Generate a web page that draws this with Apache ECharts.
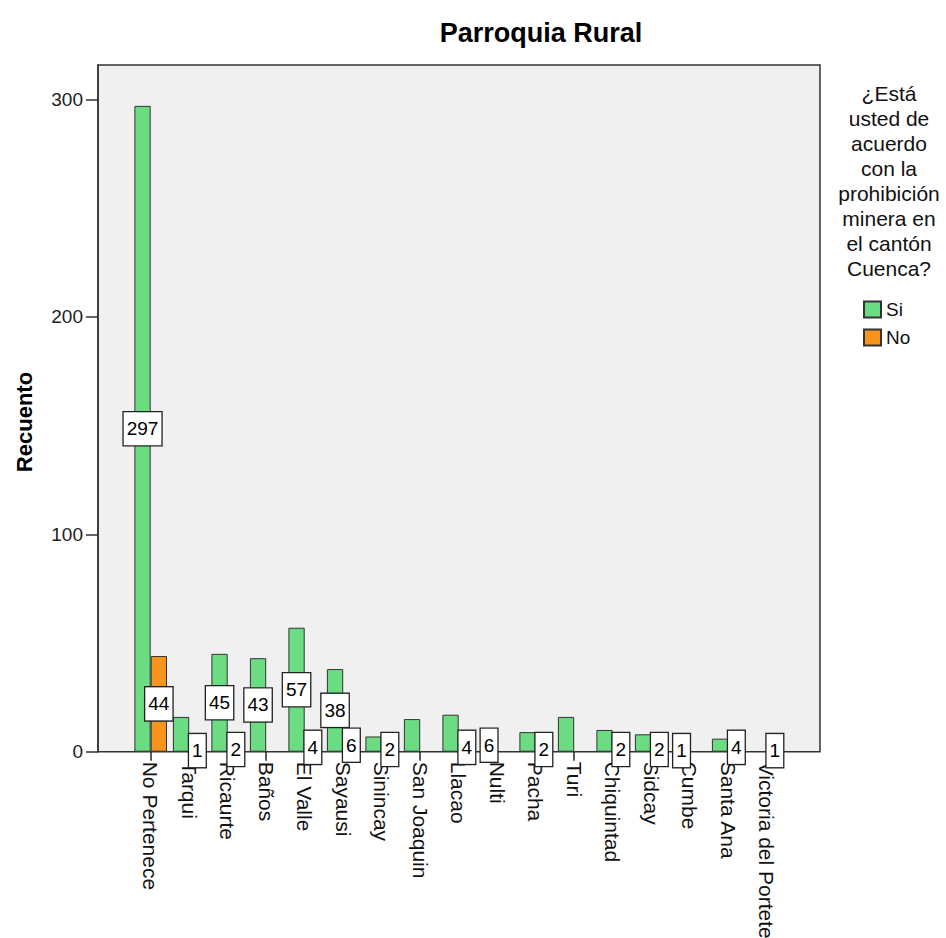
<!DOCTYPE html>
<html>
<head>
<meta charset="utf-8">
<script src="https://cdn.jsdelivr.net/npm/echarts@6/dist/echarts.min.js"></script>
<style>
html,body{margin:0;padding:0;background:#fff;}
#chart{width:946px;height:938px;}
</style>
</head>
<body>
<div id="chart"></div>
<script>
const chartTitle = 'Parroquia Rural';
const yAxisTitle = 'Recuento';
const legendTitle = '¿Está\nusted de\nacuerdo\ncon la\nprohibición\nminera en\nel cantón\nCuenca?';
const categories = ['No Pertenece','Tarqui','Ricaurte','Baños','El Valle','Sayausi','Sinincay','San Joaquin','Llacao','Nulti','Pacha','Turi','Chiquintad','Sidcay','Cumbe','Santa Ana','Victoria del Portete'];
const seriesNames = ['Si','No'];
const siValues = [297,16,45,43,57,38,7,15,17,6,9,16,10,8,1,6,0];
const noValues = [44,1,2,0,4,6,2,0,4,0,2,0,2,2,0,4,1];
const siLabelled = ['No Pertenece','Ricaurte','Baños','El Valle','Sayausi','Nulti','Cumbe'];
const yTicks = [0,100,200,300];
const yMax = 315.8;

const FONT = '"Liberation Sans", Arial, sans-serif';
const chart = echarts.init(document.getElementById('chart'), null, {renderer:'svg'});

function items(values, labelled) {
  return values.map((v, i) => v === 0 ? '-' : {
    value: v,
    label: {show: labelled ? labelled.includes(categories[i]) : true}
  });
}
const labelStyle = {
  position: 'inside',
  color: '#000',
  fontSize: 19,
  fontFamily: FONT,
  lineHeight: 21,
  backgroundColor: '#fff',
  borderColor: '#222',
  borderWidth: 1.3,
  padding: [6, 3, 6, 3],
  formatter: p => String(p.value)
};

const option = {
  animation: false,
  backgroundColor: '#fff',
  textStyle: {fontFamily: FONT},
  grid: [
    {left: 98, right: 126, top: 65, bottom: 186.3, show: true, backgroundColor: '#f0f0f0', borderColor: '#333', borderWidth: 1.5, containLabel: false, outerBoundsMode: 'none'},
    {left: 131.45, right: 160.05, top: 65, bottom: 186.3, show: false, containLabel: false, outerBoundsMode: 'none'}
  ],
  xAxis: [
    {gridIndex: 0, type: 'value', show: false, min: 0, max: 1},
    {gridIndex: 1, type: 'category', data: categories,
     axisLine: {show: false},
     axisTick: {show: true, alignWithLabel: true, length: 9, lineStyle: {color: '#222', width: 1.5}},
     axisLabel: {rotate: -90, margin: 10, fontSize: 21, color: '#111', fontFamily: FONT, interval: 0, padding: [7, 0, 0, 0]}}
  ],
  yAxis: [
    {gridIndex: 0, type: 'value', min: 0, max: yMax, interval: 100,
     axisLine: {show: true, lineStyle: {color: '#333', width: 1.5}},
     axisTick: {show: true, length: 12, lineStyle: {color: '#333', width: 1.5}, customValues: yTicks},
     axisLabel: {fontSize: 19, color: '#222', margin: 15, fontFamily: FONT, customValues: yTicks},
     splitLine: {show: false}},
    {gridIndex: 1, type: 'value', min: 0, max: yMax, show: false, splitLine: {show: false}}
  ],
  legend: {
    orient: 'vertical', left: 863, top: 300, itemWidth: 17, itemHeight: 16, itemGap: 9,
    icon: 'rect', padding: 0,
    textStyle: {fontSize: 19, color: '#111', lineHeight: 16, fontFamily: FONT},
    data: seriesNames
  },
  graphic: [
    {type: 'text', x: 541, y: 33, style: {text: chartTitle, font: 'bold 27px ' + FONT, fill: '#000', align: 'center', verticalAlign: 'middle'}},
    {type: 'text', x: 24, y: 422, rotation: Math.PI / 2, style: {text: yAxisTitle, font: 'bold 22px ' + FONT, fill: '#000', align: 'center', verticalAlign: 'middle'}},
    {type: 'text', x: 889, y: 81, style: {text: legendTitle, font: '21px ' + FONT, fill: '#111', align: 'center', verticalAlign: 'top', lineHeight: 25}}
  ],
  series: [
    {name: seriesNames[0], type: 'bar', xAxisIndex: 1, yAxisIndex: 1, barWidth: 16.3, barGap: '0%',
     itemStyle: {color: '#6cdc83', borderColor: '#333', borderWidth: 1},
     label: labelStyle,
     data: items(siValues, siLabelled)},
    {name: seriesNames[1], type: 'bar', xAxisIndex: 1, yAxisIndex: 1, barWidth: 16.3, barGap: '0%',
     itemStyle: {color: '#f7941d', borderColor: '#333', borderWidth: 1},
     label: labelStyle,
     data: items(noValues, null)}
  ]
};
chart.setOption(option);
</script>
</body>
</html>
